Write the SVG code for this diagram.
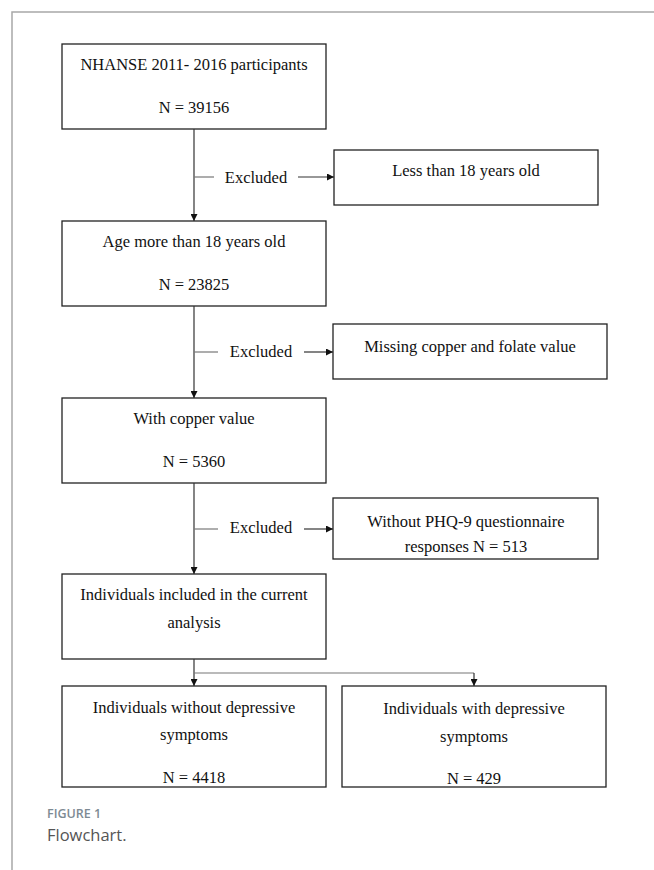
<svg xmlns="http://www.w3.org/2000/svg" width="654" height="870" viewBox="0 0 654 870">
<style>
.box{fill:#fff;stroke:#222;stroke-width:1.3}
.t{font-family:"Liberation Serif","Times New Roman",serif;font-size:16.5px;fill:#111;text-anchor:middle}
.ln{stroke:#333;stroke-width:1.2;fill:none}
.br{stroke:#777;stroke-width:1.2;fill:none}
.frame{stroke:#a8a8a8;stroke-width:1.5;fill:none}
.cap1{font-family:"Open Sans","Noto Sans",sans-serif;font-size:12.5px;font-weight:600;fill:#7d8a93}
.cap2{font-family:"Open Sans","Noto Sans",sans-serif;font-size:16.5px;fill:#555}
</style>
<defs>
<marker id="ah" viewBox="0 0 10 10" refX="10" refY="5" markerWidth="7" markerHeight="7" markerUnits="userSpaceOnUse" orient="auto">
<path d="M0,0 L10,5 L0,10 z" fill="#111"/>
</marker>
</defs>
<rect width="654" height="870" fill="#fff"/>
<path class="frame" d="M12,870 V12 H654"/>

<g id="n1"><rect class="box" x="62" y="44" width="264" height="85"/>
<text class="t" x="194" y="70">NHANSE 2011- 2016 participants</text>
<text class="t" x="194" y="113">N = 39156</text></g>

<g id="e1"><rect class="box" x="334" y="150" width="264" height="55"/>
<text class="t" x="466" y="176">Less than 18 years old</text></g>

<g id="n2"><rect class="box" x="62" y="221" width="264" height="85"/>
<text class="t" x="194" y="247">Age more than 18 years old</text>
<text class="t" x="194" y="290">N = 23825</text></g>

<g id="e2"><rect class="box" x="333" y="324" width="274" height="55"/>
<text class="t" x="470" y="352">Missing copper and folate value</text></g>

<g id="n3"><rect class="box" x="62" y="398" width="264" height="85"/>
<text class="t" x="194" y="424">With copper value</text>
<text class="t" x="194" y="467">N = 5360</text></g>

<g id="e3"><rect class="box" x="333" y="498" width="265" height="61"/>
<text class="t" x="466" y="527">Without PHQ-9 questionnaire</text>
<text class="t" x="466" y="552">responses N = 513</text></g>

<g id="n4"><rect class="box" x="62" y="574" width="264" height="85"/>
<text class="t" x="194" y="600">Individuals included in the current</text>
<text class="t" x="194" y="628">analysis</text></g>

<g id="n5"><rect class="box" x="62" y="686" width="264" height="101"/>
<text class="t" x="194" y="713">Individuals without depressive</text>
<text class="t" x="194" y="740">symptoms</text>
<text class="t" x="194" y="783">N = 4418</text></g>

<g id="n6"><rect class="box" x="342" y="686" width="264" height="101"/>
<text class="t" x="474" y="714">Individuals with depressive</text>
<text class="t" x="474" y="742">symptoms</text>
<text class="t" x="474" y="784">N = 429</text></g>

<g id="connectors">
<line class="ln" x1="194" y1="129" x2="194" y2="221" marker-end="url(#ah)"/>
<line class="br" x1="194" y1="177" x2="214" y2="177"/>
<text class="t" x="256" y="183">Excluded</text>
<line class="ln" x1="298" y1="177" x2="334" y2="177" marker-end="url(#ah)"/>

<line class="ln" x1="194" y1="306" x2="194" y2="398" marker-end="url(#ah)"/>
<line class="br" x1="194" y1="352" x2="218" y2="352"/>
<text class="t" x="261" y="357">Excluded</text>
<line class="ln" x1="304" y1="352" x2="333" y2="352" marker-end="url(#ah)"/>

<line class="ln" x1="194" y1="483" x2="194" y2="574" marker-end="url(#ah)"/>
<line class="br" x1="194" y1="529" x2="218" y2="529"/>
<text class="t" x="261" y="533">Excluded</text>
<line class="ln" x1="304" y1="529" x2="333" y2="529" marker-end="url(#ah)"/>

<line class="ln" x1="194" y1="659" x2="194" y2="686" marker-end="url(#ah)"/>
<polyline class="br" points="194,673 474,673"/>
<line class="ln" x1="474" y1="673" x2="474" y2="686" marker-end="url(#ah)"/>
</g>

<text class="cap1" x="47" y="818">FIGURE 1</text>
<text class="cap2" x="47" y="841">Flowchart.</text>
</svg>
